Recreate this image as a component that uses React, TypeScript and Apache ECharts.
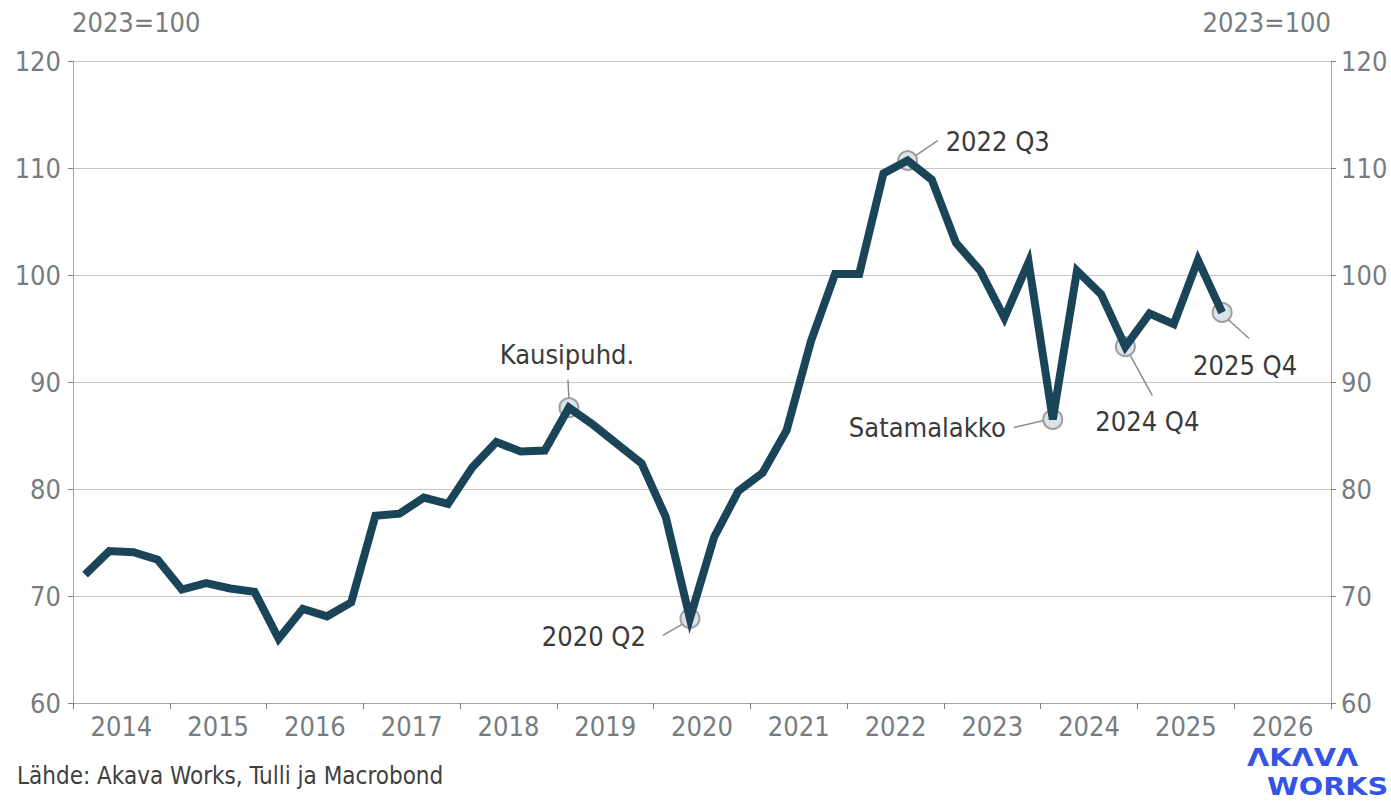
import React, { useEffect, useRef } from "react";
import * as echarts from "echarts";

const years = [2014, 2015, 2016, 2017, 2018, 2019, 2020, 2021, 2022, 2023, 2024, 2025];
const quarterNames = ["Q1", "Q2", "Q3", "Q4"];
const values2014 = [72.0, 74.2, 74.1, 73.4];
const values2015 = [70.6, 71.2, 70.7, 70.4];
const values2016 = [66.0, 68.8, 68.1, 69.4];
const values2017 = [77.5, 77.7, 79.2, 78.6];
const values2018 = [82.0, 84.4, 83.5, 83.6];
const values2019 = [87.6, 86.0, 84.2, 82.4];
const values2020 = [77.4, 67.9, 75.5, 79.8];
const values2021 = [81.5, 85.5, 93.8, 100.1];
const values2022 = [100.1, 109.5, 110.7, 108.9];
const values2023 = [103.0, 100.4, 96.0, 101.2];
const values2024 = [86.5, 100.4, 98.2, 93.3];
const values2025 = [96.4, 95.4, 101.4, 96.5];
const yearlyValues = [
  values2014, values2015, values2016, values2017, values2018, values2019,
  values2020, values2021, values2022, values2023, values2024, values2025,
];

const annotations = [
  { quarter: "2019 Q1", label: "Kausipuhd." },
  { quarter: "2020 Q2", label: "2020 Q2" },
  { quarter: "2022 Q3", label: "2022 Q3" },
  { quarter: "2024 Q1", label: "Satamalakko" },
  { quarter: "2024 Q4", label: "2024 Q4" },
  { quarter: "2025 Q4", label: "2025 Q4" },
];

const yTicks = { min: 60, max: 120, interval: 10 };
const xRange = { min: 2014, max: 2027 };

const FONT = '"DejaVu Sans Condensed", "Liberation Sans Narrow", "DejaVu Sans", sans-serif';

// label placement relative to circle centre
const annotationLayout: Record<string, any> = {
  "Kausipuhd.": { l: [-1, -28, 0, -10], t: [-2, -53], align: "center" },
  "2020 Q2": { l: [-27, 17, -8, 6], t: [-44, 18], align: "right" },
  "2022 Q3": { l: [8, -5, 30, -20], t: [38, -19], align: "left" },
  "Satamalakko": { l: [-39, 8, -9, 1], t: [-47, 8], align: "right" },
  "2024 Q4": { l: [5, 9, 27, 49], t: [22, 75], align: "center" },
  "2025 Q4": { l: [6, 7, 27, 26], t: [23, 53], align: "center" },
};

export default function App() {
  const ref = useRef<HTMLDivElement>(null);
  useEffect(() => {
    document.body.style.margin = "0";
    const chart = echarts.init(ref.current!, null, { renderer: "svg" });

    const points: { name: string; x: number; y: number }[] = [];
    years.forEach((yr, i) => {
      quarterNames.forEach((q, j) => {
        points.push({ name: `${yr} ${q}`, x: yr + (j + 0.5) / 4, y: yearlyValues[i][j] });
      });
    });
    const lineData = points.map((p) => [p.x, p.y]);
    const annPoints = annotations.map((a) => {
      const p = points.find((pp) => pp.name === a.quarter)!;
      return { ...a, x: p.x, y: p.y };
    });

    const axisLabelColor = "#767c80";
    chart.setOption({
      animation: false,
      grid: { left: 73, right: 60, top: 61, bottom: 100 },
      xAxis: [
        {
          type: "value",
          min: xRange.min,
          max: xRange.max,
          interval: 1,
          axisLine: { show: true, lineStyle: { color: "#a6a6a6", width: 1 } },
          axisTick: { show: true, length: 6, lineStyle: { color: "#7f7f7f", width: 1 } },
          axisLabel: { show: false },
          splitLine: { show: false },
        },
        {
          type: "value",
          min: xRange.min,
          max: xRange.max,
          interval: 0.5,
          position: "bottom",
          axisLine: { show: false },
          axisTick: { show: false },
          splitLine: { show: false },
          axisLabel: {
            show: true,
            margin: 10,
            color: axisLabelColor,
            fontSize: 27,
            fontFamily: FONT,
            formatter: (v: number) => (Math.abs((v % 1) - 0.5) < 1e-6 ? String(Math.floor(v)) : ""),
          },
        },
      ],
      yAxis: [
        {
          type: "value",
          position: "left",
          min: yTicks.min,
          max: yTicks.max,
          interval: yTicks.interval,
          axisLine: { show: true, lineStyle: { color: "#a6a6a6", width: 1 } },
          axisTick: { show: true, length: 5, lineStyle: { color: "#7f7f7f" } },
          axisLabel: { color: axisLabelColor, fontSize: 27, fontFamily: FONT, margin: 12 },
          splitLine: { show: true, lineStyle: { color: "#c8c8c8", width: 1 } },
        },
        {
          type: "value",
          position: "right",
          min: yTicks.min,
          max: yTicks.max,
          interval: yTicks.interval,
          axisLine: { show: true, lineStyle: { color: "#a6a6a6", width: 1 } },
          axisTick: { show: true, length: 5, lineStyle: { color: "#7f7f7f" } },
          axisLabel: { color: axisLabelColor, fontSize: 27, fontFamily: FONT, margin: 10 },
          splitLine: { show: false },
        },
      ],
      series: [
        {
          type: "scatter",
          xAxisIndex: 0,
          yAxisIndex: 0,
          z: 1,
          symbol: "circle",
          symbolSize: 19,
          itemStyle: { color: "#d5dae2", borderColor: "#8a8a8a", borderWidth: 2 },
          data: annPoints.map((a) => [a.x, a.y]),
          silent: true,
        },
        {
          type: "line",
          xAxisIndex: 0,
          yAxisIndex: 0,
          z: 2,
          data: lineData,
          showSymbol: false,
          symbol: "none",
          lineStyle: { color: "#1a4558", width: 8, join: "miter", cap: "butt" },
          silent: true,
        },
      ],
    });

    const logoFont = '"DejaVu Sans", sans-serif';
    const logoStyle = { fill: "#3354e6", fontSize: 25, fontWeight: "bold", fontFamily: logoFont, verticalAlign: "top", align: "left" };
    const graphics: any[] = [
      {
        type: "text",
        left: 72,
        top: 9,
        style: { text: "2023=100", fill: axisLabelColor, fontSize: 27, fontFamily: FONT },
      },
      {
        type: "text",
        right: 60,
        top: 9,
        style: { text: "2023=100", fill: axisLabelColor, fontSize: 27, fontFamily: FONT },
      },
      {
        type: "text",
        left: 17,
        top: 764,
        style: { text: "Lähde: Akava Works, Tulli ja Macrobond", fill: "#404040", fontSize: 24, fontFamily: FONT },
      },
      {
        type: "text",
        x: 1247,
        y: 745,
        scaleX: 1.15,
        style: { ...logoStyle, text: "ΛKΛVΛ" },
      },
      {
        type: "text",
        x: 1267,
        y: 774,
        scaleX: 1.15,
        style: { ...logoStyle, text: "WORKS" },
      },
    ];
    annPoints.forEach((a) => {
      const [cx, cy] = chart.convertToPixel({ seriesIndex: 1 }, [a.x, a.y]) as number[];
      const lay = annotationLayout[a.label];
      graphics.push({
        type: "line",
        z: 100,
        shape: { x1: cx + lay.l[0], y1: cy + lay.l[1], x2: cx + lay.l[2], y2: cy + lay.l[3] },
        style: { stroke: "#8c8c8c", lineWidth: 1.5 },
      });
      graphics.push({
        type: "text",
        z: 100,
        x: cx + lay.t[0],
        y: cy + lay.t[1],
        style: {
          text: a.label,
          fill: "#3a3a3a",
          fontSize: 27,
          fontFamily: FONT,
          align: lay.align,
          verticalAlign: "middle",
        },
      });
    });
    chart.setOption({ graphic: graphics });

    return () => chart.dispose();
  }, []);
  return <div ref={ref} style={{ width: 1391, height: 803 }} />;
}
